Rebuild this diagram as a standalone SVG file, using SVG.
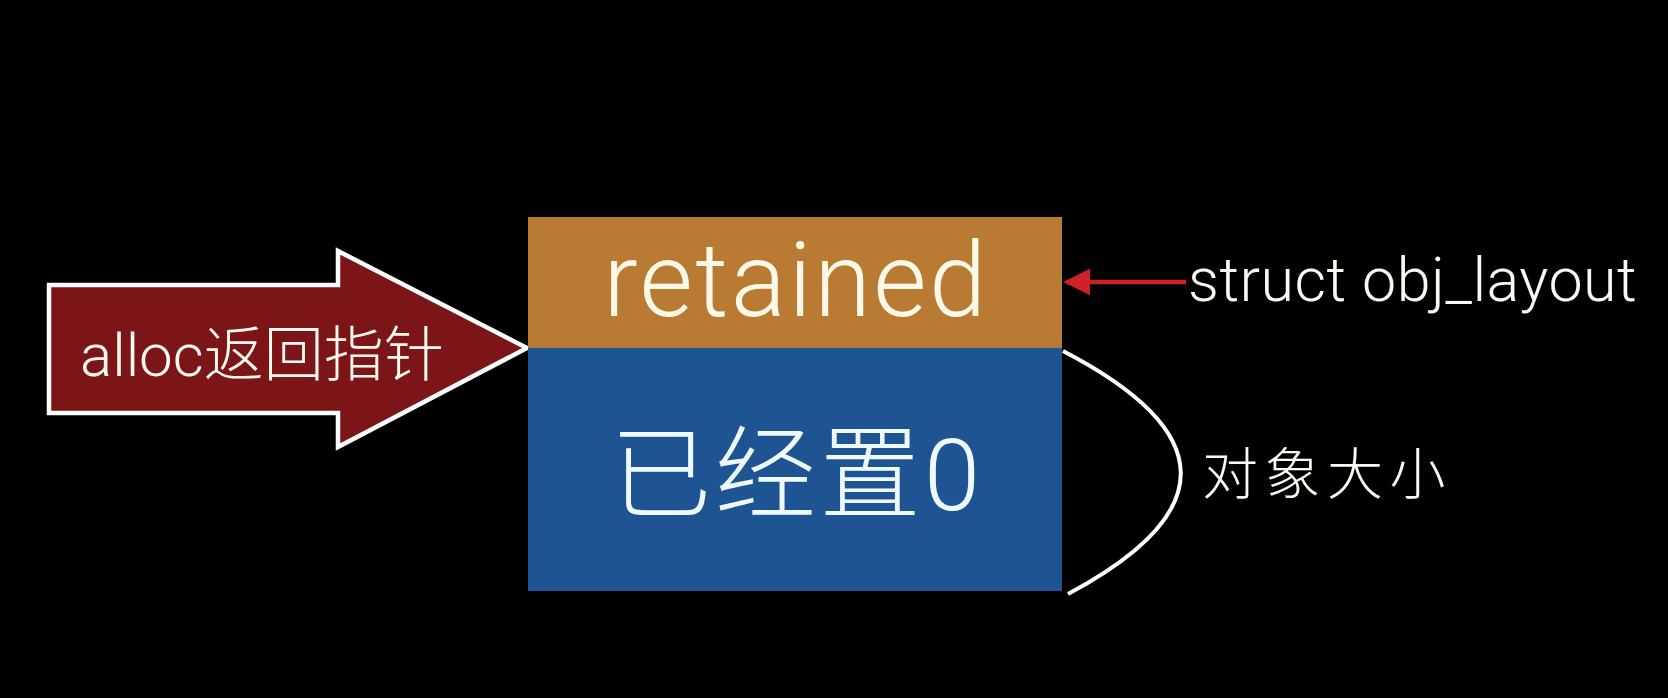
<svg xmlns="http://www.w3.org/2000/svg" width="1668" height="698" viewBox="0 0 1668 698">
<defs>
<style>
.t{font-family:Roboto,"Liberation Sans","Noto Sans CJK SC",sans-serif;font-weight:300;}
.w{fill:#fbf8f0;}
</style>
<marker id="redHead" viewBox="0 0 10 10" refX="9" refY="5" markerWidth="6" markerHeight="6" markerUnits="strokeWidth" orient="auto">
<path d="M0,0 L10,5 L0,10 Z" fill="#d0202a"/>
</marker>
</defs>
<rect x="0" y="0" width="1668" height="698" fill="#000"/>
<g id="alloc-arrow">
<polygon points="49,285 338,285 338,251 527,348 338,447 338,413 49,413" fill="#7b1517" stroke="#fff" stroke-width="4.5" stroke-linejoin="miter"/>
<text class="t w" x="80" y="376" font-size="60">alloc返回指针</text>
</g>
<g id="retained">
<rect x="528" y="217" width="534" height="131" fill="#b97a34"/>
<text class="t" x="796" y="316" font-size="103" letter-spacing="2.5" text-anchor="middle" fill="#fff8e6">retained</text>
</g>
<g id="zeroed">
<rect x="528" y="348" width="534" height="243" fill="#1f5492"/>
<text class="t" x="797" y="510" font-size="101" letter-spacing="3.5" text-anchor="middle" fill="#eefaff">已经置0</text>
</g>
<g id="struct-label">
<text class="t w" x="1188" y="301" font-size="61" letter-spacing="0.5">struct obj_layout</text>
</g>
<g id="size-label">
<text class="t w" x="1202" y="494" font-size="56" letter-spacing="6.5">对象大小</text>
</g>
<g id="connectors">
<line x1="1186" y1="282" x2="1066" y2="282" stroke="#d0202a" stroke-width="4.5" marker-end="url(#redHead)"/>
<path d="M1063,351 Q1296,472 1068,594" fill="none" stroke="#fff" stroke-width="4"/>
</g>
</svg>
